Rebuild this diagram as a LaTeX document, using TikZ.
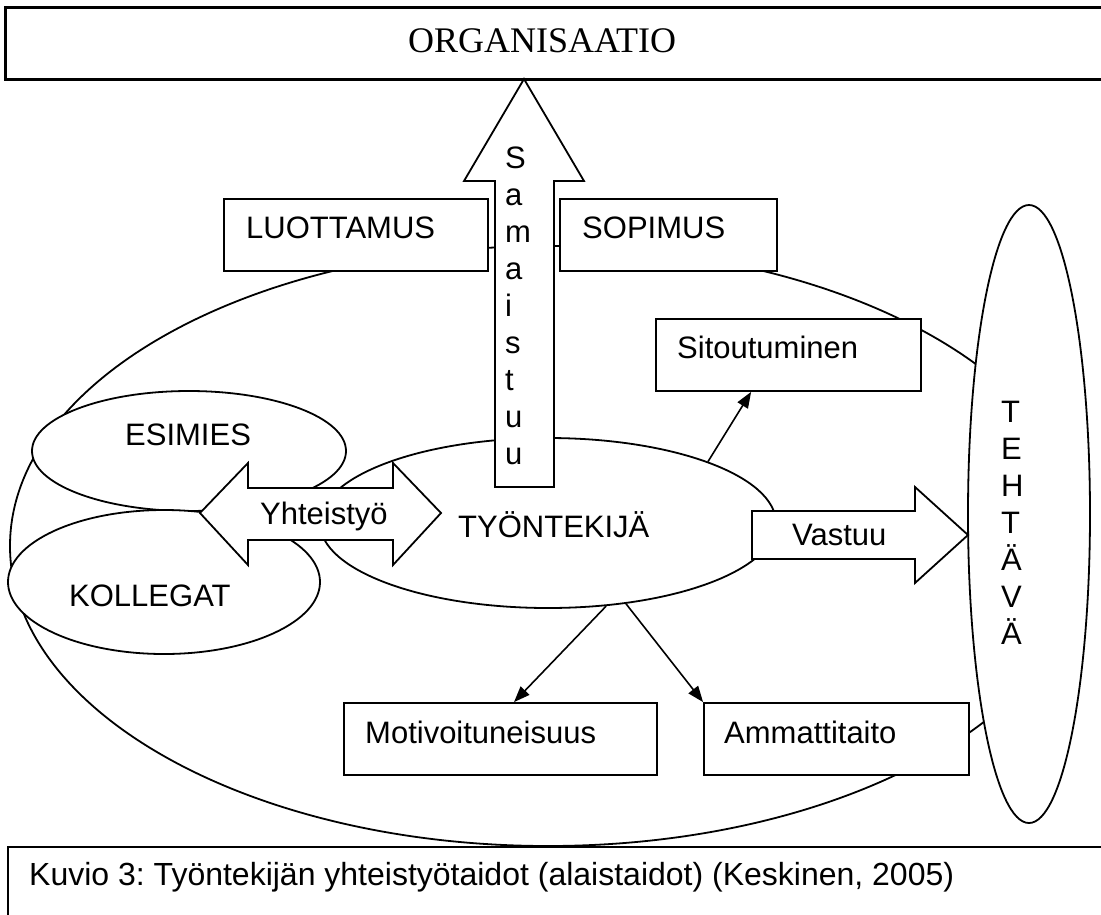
\documentclass[tikz,border=0pt]{standalone}
\usepackage{fontspec}
\setmainfont{Liberation Sans}
\newfontfamily\serifTNR{Liberation Serif}
\usetikzlibrary{shapes.geometric,arrows.meta,calc}
\frenchspacing
\begin{document}
\begin{tikzpicture}[x=1pt,y=-1pt,
  box/.style={draw,line width=1.8pt,fill=white,rectangle,inner sep=0pt},
  ell/.style={draw,line width=1.8pt,fill=white,ellipse,inner sep=0pt},
  lbl/.style={anchor=base west,inner sep=0pt,font=\fontsize{31}{37}\selectfont},
  blockarrow/.style={draw,line width=1.8pt,fill=white,line join=miter},
  conn/.style={line width=1.6pt,-{Triangle[length=16pt,width=12pt]}}]
\useasboundingbox (0,0) rectangle (1101,914);
\clip (0,0) rectangle (1101,914);
\fill[white] (0,0) rectangle (1101,914);

% organisation box (open to the right edge)
\node[anchor=north west,minimum width=1300pt,minimum height=72pt,inner sep=0pt] (org) at (5,7) {};
\draw[line width=3pt] (org.north east) -- (org.north west) -- (org.south west) -- (org.south east);
\node[anchor=base west,inner sep=0pt,font=\serifTNR\fontsize{36}{40}\selectfont] (orgt) at (408,52) {ORGANISAATIO};

% big ellipse
\node[draw,line width=1.8pt,ellipse,inner sep=0pt,minimum width=1076pt,minimum height=600pt] (big) at (548,546) {};

% boxes
\node[box,minimum width=264pt,minimum height=72pt] (luo) at (356,235) {};
\node[lbl] (luot) at (246,238) {LUOTTAMUS};
\node[box,minimum width=217pt,minimum height=72pt] (sop) at (668.5,235) {};
\node[lbl] (sopt) at (582,238) {SOPIMUS};
\node[box,minimum width=265pt,minimum height=72pt] (sit) at (788.5,355) {};
\node[lbl] (sitt) at (677,358) {Sitoutuminen};
\node[box,minimum width=313pt,minimum height=72pt] (mot) at (500.5,739) {};
\node[lbl] (mott) at (365,743) {Motivoituneisuus};
\node[box,minimum width=265pt,minimum height=72pt] (amm) at (836.5,739) {};
\node[lbl] (ammt) at (724,743) {Ammattitaito};

% ellipses
\node[ell,minimum width=314pt,minimum height=120pt] (esi) at (189,451) {};
\node[lbl] (esit) at (125,445) {ESIMIES};
\node[ell,minimum width=312pt,minimum height=144pt] (kol) at (164,582) {};
\node[lbl] (kolt) at (69,606) {KOLLEGAT};
\node[ell,minimum width=456pt,minimum height=170pt] (tyo) at (548,523) {};
\node[lbl] (tyot) at (458,537) {TYÖNTEKIJÄ};
\node[ell,minimum width=122pt,minimum height=618pt] (teh) at (1029,514) {};
\foreach \c [count=\i from 0] in {T,E,H,T,Ä,V,Ä}
  \node[lbl] (teh\i) at (1001,422+37*\i) {\c};

% block arrows
\draw[blockarrow] (524,79) -- (584,181) -- (554,181) -- (554,487) -- (495,487) -- (495,181) -- (464,181) -- cycle;
\foreach \c [count=\i from 0] in {S,a,m,a,i,s,t,u,u}
  \node[lbl] (sam\i) at (505,168+37*\i) {\c};
\draw[blockarrow] (200,513) -- (248,463) -- (248,488) -- (393,488) -- (393,463) -- (441,513) -- (393,565) -- (393,540) -- (248,540) -- (248,565) -- cycle;
\node[lbl] (yht) at (260,524) {Yhteistyö};
\draw[blockarrow] (752,511) -- (915,511) -- (915,487) -- (968,535) -- (915,583) -- (915,559) -- (752,559) -- cycle;
\node[lbl] (vas) at (792,545) {Vastuu};

% connectors
\draw[conn] (tyo.21.2) -- ([xshift=96pt]sit.south west);
\draw[conn] (tyo.-55) -- ([xshift=13.5pt]mot.north);
\draw[conn] (tyo.-46) -- (amm.north west);

% caption (open to the right and bottom edges)
\node[anchor=north west,minimum width=1300pt,minimum height=120pt,inner sep=0pt] (cap) at (8,847) {};
\draw[line width=1.8pt] (cap.south west) -- (cap.north west) -- (cap.north east);
\node[anchor=base west,inner sep=0pt,font=\fontsize{32}{38}\selectfont] (capt) at (29,885) {Kuvio 3: Työntekijän yhteistyötaidot (alaistaidot) (Keskinen, 2005)};
\end{tikzpicture}
\end{document}
